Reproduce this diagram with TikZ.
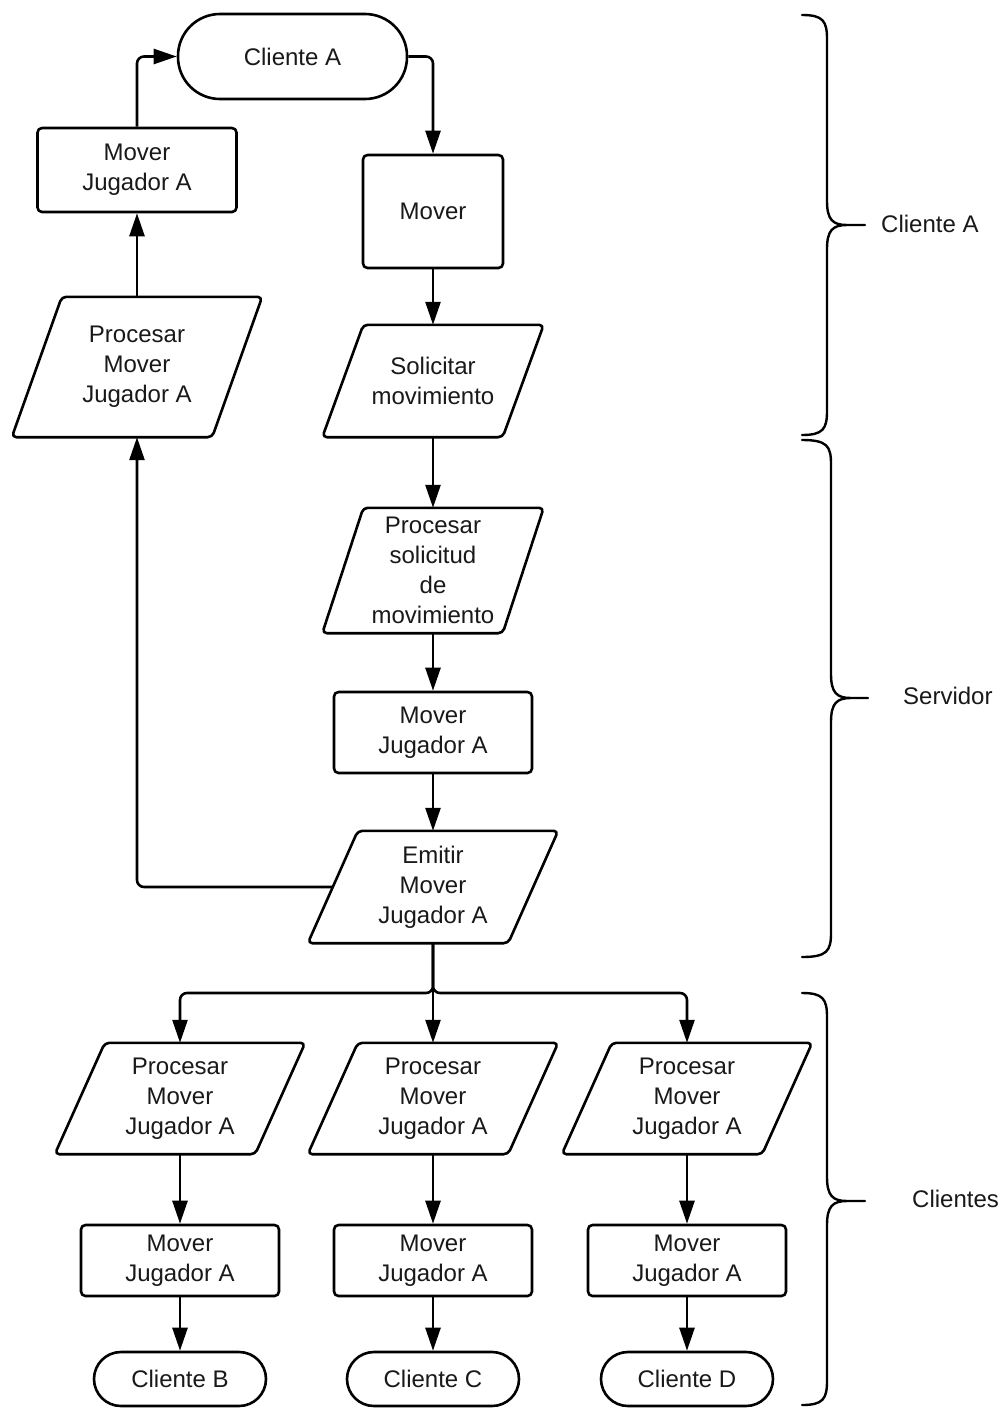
\documentclass[tikz,border=0pt]{standalone}
\usepackage{fontspec}
\setmainfont{Liberation Sans}
\usetikzlibrary{arrows.meta,calc}

% parallelogram (input/output) frame around a named node; #2 = horizontal slant
\newcommand\ioframe[2]{%
  \draw[shapeline] ($(#1.south west)+(-#2/2,0)$) -- ($(#1.north west)+(#2/2,0)$)
    -- ($(#1.north east)+(#2/2,0)$) -- ($(#1.south east)+(-#2/2,0)$) -- cycle;}

% curly brace: x of the ends, top y, bottom y, spine x, tip x, tip y
\newcommand\groupbrace[6]{%
  \draw[bracel] (#1,#2) .. controls ({#4-4},#2) and (#4,{#2+6}) .. (#4,{#2+24})
    -- (#4,{#6-24}) .. controls (#4,{#6-5}) and ({#4+6},#6) .. ({#4+20},#6) -- (#5,#6)
    (#5,#6) -- ({#4+20},#6) .. controls ({#4+6},#6) and (#4,{#6+5}) .. (#4,{#6+24})
    -- (#4,{#3-24}) .. controls (#4,{#3-6}) and ({#4-4},#3) .. (#1,#3);}

\tikzset{
  every node/.style={font=\fontsize{24}{30}\selectfont, align=center, inner sep=0pt, text=black!90},
  shapeline/.style={line width=2.6pt, line join=round, rounded corners=4.5pt},
  procbox/.style={draw, shapeline, rectangle},
  terminal/.style={draw, line width=2.6pt, rectangle, rounded corners=#1},
  io/.style={rectangle},
  flow/.style={line width=2.6pt, rounded corners=7pt, -{Triangle[length=23pt,width=15pt]}},
  bracel/.style={line width=2.4pt, line cap=round},
}

\begin{document}
\begin{tikzpicture}[x=1pt, y=-1pt]
  \fill[white] (0,0) rectangle (1005,1408);

  % client A side
  \node[terminal=42pt, minimum width=229pt, minimum height=85pt] (cA) at (292.5,56.5) {Cliente A};
  \node[procbox, minimum width=199pt, minimum height=84pt] (mvl) at (137,170) {Mover\\Jugador A};
  \node[io, minimum width=200pt, minimum height=140pt] (ppl) at (137,367) {Procesar\\Mover\\Jugador A};
  \ioframe{ppl}{50}
  \node[procbox, minimum width=140pt, minimum height=113pt] (mover) at (433,211.5) {Mover};
  \node[io, minimum width=180pt, minimum height=112pt] (sol) at (433,381) {Solicitar\\movimiento};
  \ioframe{sol}{41}

  % server side
  \node[io, minimum width=180pt, minimum height=125pt] (pss) at (433,570.5) {Procesar\\solicitud\\de\\movimiento};
  \ioframe{pss}{41}
  \node[procbox, minimum width=198pt, minimum height=81pt] (mja) at (433,732.5) {Mover\\Jugador A};
  \node[io, minimum width=200pt, minimum height=112pt] (emit) at (433,887) {Emitir\\Mover\\Jugador A};
  \ioframe{emit}{50}
  \coordinate (split) at (433,993);

  % other clients
  \foreach \nm/\cx in {B/180, C/433, D/687}{
    \node[io, minimum width=200pt, minimum height=111pt] (p\nm) at (\cx,1098.5) {Procesar\\Mover\\Jugador A};
    \ioframe{p\nm}{50}
    \node[procbox, minimum width=198pt, minimum height=71pt] (m\nm) at (\cx,1260.5) {Mover\\Jugador A};
    \node[terminal=27pt, minimum width=172pt, minimum height=54pt] (c\nm) at (\cx,1379) {Cliente \nm};
  }

  % connectors
  \draw[flow] (cA.east) -| (mover.north);
  \draw[flow] (mover.south) -- (sol.north);
  \draw[flow] (sol.south) -- (pss.north);
  \draw[flow] (pss.south) -- (mja.north);
  \draw[flow] (mja.south) -- (emit.north);
  \draw[flow] (emit.west) -| (ppl.south);
  \draw[flow] (ppl.north) -- (mvl.south);
  \draw[flow] (mvl.north) |- (cA.west);
  \draw[flow] (emit.south) -- (split) -| (pB.north);
  \draw[flow] (emit.south) -- (pC.north);
  \draw[flow] (emit.south) -- (split) -| (pD.north);
  \foreach \nm in {B,C,D}{
    \draw[flow] (p\nm.south) -- (m\nm.north);
    \draw[flow] (m\nm.south) -- (c\nm.north);
  }

  % grouping braces
  \groupbrace{802}{15}{435}{827}{865}{225}
  \groupbrace{802}{440}{957}{831}{868}{698}
  \groupbrace{802}{993}{1405}{827}{865}{1201}
  \node[anchor=west] (lblA) at (881,224) {Cliente A};
  \node[anchor=west] (lblS) at (903,696) {Servidor};
  \node[anchor=west] (lblC) at (912,1199) {Clientes};
\end{tikzpicture}
\end{document}
